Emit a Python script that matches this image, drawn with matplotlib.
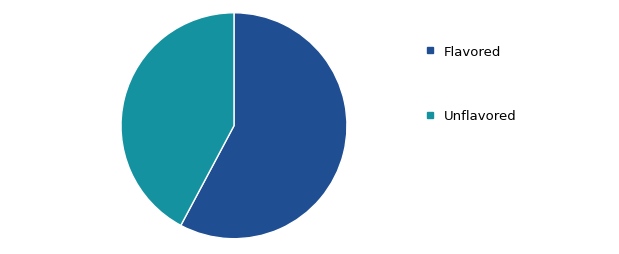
import matplotlib.pyplot as plt
from matplotlib.lines import Line2D

labels = ["Flavored", "Unflavored"]
shares = [57.8, 42.2]
colors = ["#1F4E93", "#1592A0"]

fig = plt.figure(figsize=(6.19, 2.55), dpi=100)
ax = fig.add_axes([0.1955, 0.060, 0.365, 0.886])
ax.pie(shares, colors=colors, startangle=90, counterclock=False,
       wedgeprops={"edgecolor": "white", "linewidth": 1})
ax.set_xlim(-1.0, 1.0)
ax.set_ylim(-1.0, 1.0)
ax.set_aspect("equal")

handles = [Line2D([], [], marker="s", linestyle="none", markersize=5,
                  markerfacecolor=c, markeredgecolor=c) for c in colors]
fig.legend(handles, labels, loc="upper left", bbox_to_anchor=(0.675, 0.846),
           frameon=False, fontsize=9.5, labelspacing=3.9,
           handlelength=0.8, handletextpad=0.7, borderpad=0)

fig.savefig("out.png", dpi=100)
